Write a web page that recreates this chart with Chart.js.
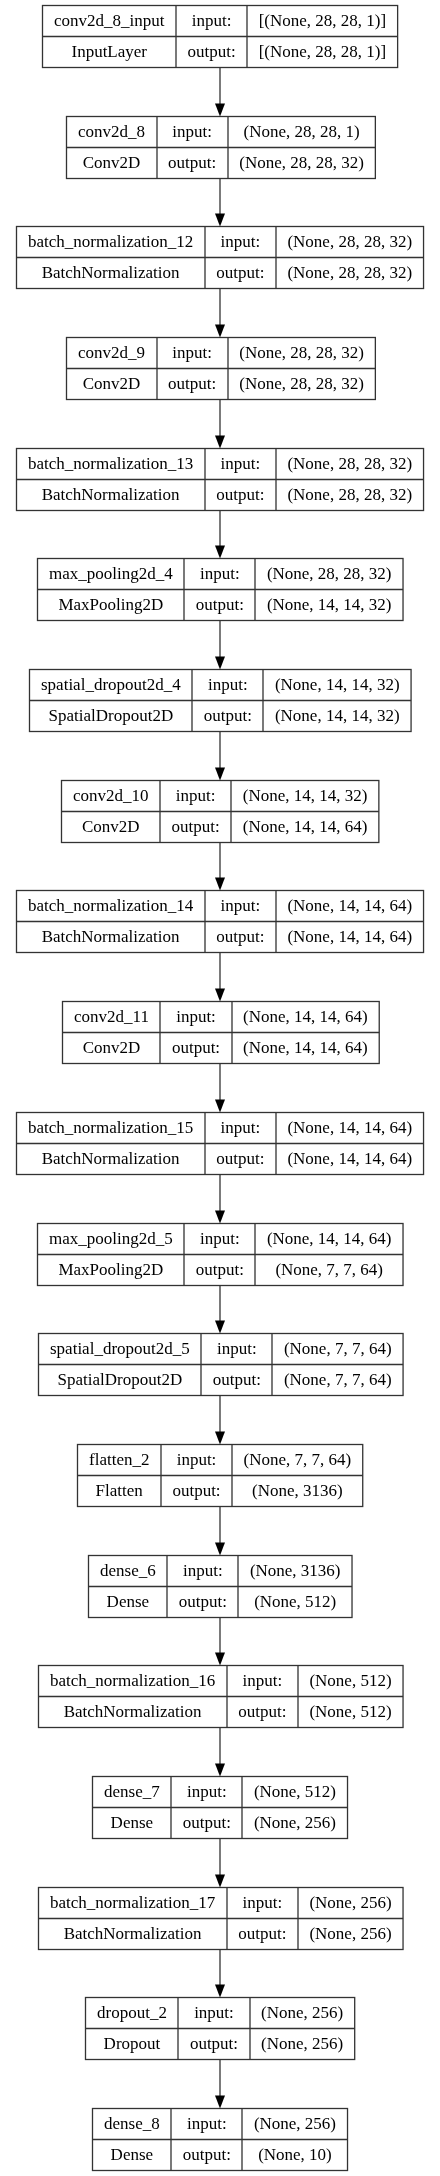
<!DOCTYPE html>
<html>
<head>
<meta charset="utf-8">
<script src="https://cdn.jsdelivr.net/npm/chart.js@4/dist/chart.umd.min.js"></script>
<style>
  html, body { margin: 0; padding: 0; background: #fff; }
  canvas { display: block; }
</style>
</head>
<body>
<canvas id="myChart" width="440" height="2176"></canvas>
<script>
// layer data of the model
var layerNames = ['conv2d_8_input', 'conv2d_8', 'batch_normalization_12', 'conv2d_9',
  'batch_normalization_13', 'max_pooling2d_4', 'spatial_dropout2d_4', 'conv2d_10',
  'batch_normalization_14', 'conv2d_11', 'batch_normalization_15', 'max_pooling2d_5',
  'spatial_dropout2d_5', 'flatten_2', 'dense_6', 'batch_normalization_16', 'dense_7',
  'batch_normalization_17', 'dropout_2', 'dense_8'];
var layerTypes = ['InputLayer', 'Conv2D', 'BatchNormalization', 'Conv2D',
  'BatchNormalization', 'MaxPooling2D', 'SpatialDropout2D', 'Conv2D',
  'BatchNormalization', 'Conv2D', 'BatchNormalization', 'MaxPooling2D',
  'SpatialDropout2D', 'Flatten', 'Dense', 'BatchNormalization', 'Dense',
  'BatchNormalization', 'Dropout', 'Dense'];
var inputShapes = ['[(None, 28, 28, 1)]', '(None, 28, 28, 1)', '(None, 28, 28, 32)', '(None, 28, 28, 32)',
  '(None, 28, 28, 32)', '(None, 28, 28, 32)', '(None, 14, 14, 32)', '(None, 14, 14, 32)',
  '(None, 14, 14, 64)', '(None, 14, 14, 64)', '(None, 14, 14, 64)', '(None, 14, 14, 64)',
  '(None, 7, 7, 64)', '(None, 7, 7, 64)', '(None, 3136)', '(None, 512)', '(None, 512)',
  '(None, 256)', '(None, 256)', '(None, 256)'];
var outputShapes = ['[(None, 28, 28, 1)]', '(None, 28, 28, 32)', '(None, 28, 28, 32)', '(None, 28, 28, 32)',
  '(None, 28, 28, 32)', '(None, 14, 14, 32)', '(None, 14, 14, 32)', '(None, 14, 14, 64)',
  '(None, 14, 14, 64)', '(None, 14, 14, 64)', '(None, 14, 14, 64)', '(None, 7, 7, 64)',
  '(None, 7, 7, 64)', '(None, 3136)', '(None, 512)', '(None, 512)', '(None, 256)',
  '(None, 256)', '(None, 256)', '(None, 10)'];

var FONT = '17px "Liberation Serif", "Times New Roman", serif';
var PAD = 23, ROW = 31, LINE = '#333';

var boxPlugin = {
  id: 'boxes',
  afterDatasetsDraw: function (chart) {
    var ctx = chart.ctx;
    var pts = chart.getDatasetMeta(0).data;
    ctx.save();
    ctx.font = FONT;
    ctx.textBaseline = 'middle';
    ctx.textAlign = 'center';
    ctx.lineWidth = 1.3;
    ctx.strokeStyle = LINE;
    var boxes = [];
    pts.forEach(function (p, i) {
      var w1 = Math.max(ctx.measureText(layerNames[i]).width, ctx.measureText(layerTypes[i]).width) + PAD;
      var w2 = ctx.measureText('output:').width + PAD;
      var w3 = Math.max(ctx.measureText(inputShapes[i]).width, ctx.measureText(outputShapes[i]).width) + PAD;
      var w = w1 + w2 + w3;
      var left = Math.round(p.x - w / 2) + 0.5;
      var top = Math.round(p.y - ROW) + 0.5;
      boxes.push({ top: top, bottom: top + 2 * ROW });
      ctx.strokeRect(left, top, w, 2 * ROW);
      ctx.beginPath();
      ctx.moveTo(left, top + ROW); ctx.lineTo(left + w, top + ROW);
      ctx.moveTo(Math.round(left + w1), top); ctx.lineTo(Math.round(left + w1), top + 2 * ROW);
      ctx.moveTo(Math.round(left + w1 + w2), top); ctx.lineTo(Math.round(left + w1 + w2), top + 2 * ROW);
      ctx.stroke();
      ctx.fillStyle = '#000';
      ctx.fillText(layerNames[i], left + w1 / 2, top + ROW / 2 + 1);
      ctx.fillText(layerTypes[i], left + w1 / 2, top + ROW * 1.5 + 1);
      ctx.fillText('input:', left + w1 + w2 / 2, top + ROW / 2 + 1);
      ctx.fillText('output:', left + w1 + w2 / 2, top + ROW * 1.5 + 1);
      ctx.fillText(inputShapes[i], left + w1 + w2 + w3 / 2, top + ROW / 2 + 1);
      ctx.fillText(outputShapes[i], left + w1 + w2 + w3 / 2, top + ROW * 1.5 + 1);
    });
    // arrows between layers
    for (var i = 0; i < boxes.length - 1; i++) {
      var x = Math.round(pts[i].x);
      var y0 = boxes[i].bottom, y1 = boxes[i + 1].top;
      ctx.beginPath();
      ctx.moveTo(x, y0); ctx.lineTo(x, y1 - 12);
      ctx.stroke();
      ctx.fillStyle = '#000';
      ctx.beginPath();
      ctx.moveTo(x - 5, y1 - 13); ctx.lineTo(x + 5, y1 - 13); ctx.lineTo(x, y1);
      ctx.closePath();
      ctx.fill();
    }
    ctx.restore();
  }
};

var ctx = document.getElementById('myChart').getContext('2d');
var chart = new Chart(ctx, {
  type: 'scatter',
  data: {
    datasets: [{
      data: layerNames.map(function (n, i) { return { x: 220, y: i }; }),
      pointRadius: 0
    }]
  },
  options: {
    responsive: false,
    animation: false,
    layout: { padding: { top: 36, bottom: 37, left: 0, right: 0 } },
    plugins: { legend: { display: false }, tooltip: { enabled: false } },
    scales: {
      x: { type: 'linear', min: 0, max: 440, display: false },
      y: { type: 'linear', min: 0, max: 19, reverse: true, display: false }
    }
  },
  plugins: [boxPlugin]
});
</script>
</body>
</html>
